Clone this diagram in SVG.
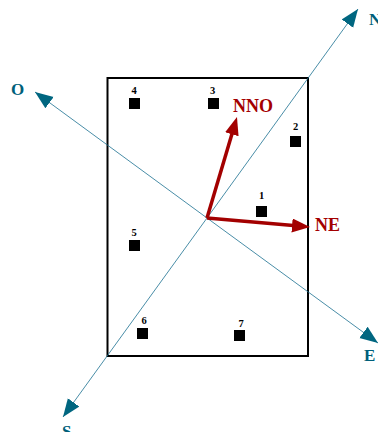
<svg xmlns="http://www.w3.org/2000/svg" width="378" height="432" viewBox="0 0 378 432">
<style>
.axis{stroke:#1a7090;stroke-width:0.8;fill:none}
.dir{font-family:"Liberation Serif",serif;font-weight:bold;font-size:17px;fill:#005f7a}
.red{stroke:#a30000;stroke-width:3.5;fill:none}
.rlab{font-family:"Liberation Serif",serif;font-weight:bold;font-size:18px;fill:#a30000}
.num{font-family:"Liberation Serif",serif;font-weight:bold;font-size:10.5px;fill:#000;text-anchor:middle}
.pt{fill:#000}
</style>
<defs>
<marker id="ta" markerUnits="userSpaceOnUse" markerWidth="20" markerHeight="16" refX="18" refY="7" orient="auto">
<path d="M0,0 L18,7 L0,14 z" fill="#006680"/>
</marker>
<marker id="ra" markerUnits="userSpaceOnUse" markerWidth="20" markerHeight="16" refX="10" refY="7" orient="auto">
<path d="M0,0 L18,7 L0,14 z" fill="#a30000"/>
</marker>
</defs>
<g id="frame">
<rect x="107.5" y="78" width="200.5" height="278" fill="none" stroke="#000" stroke-width="2"/>
</g>
<g id="connectors">
<line class="axis" x1="207" y1="218" x2="358" y2="9" marker-end="url(#ta)"/>
<line class="axis" x1="207" y1="218" x2="63" y2="417" marker-end="url(#ta)"/>
<line class="axis" x1="207" y1="218" x2="35" y2="92" marker-end="url(#ta)"/>
<line class="axis" x1="207" y1="218" x2="378" y2="343" marker-end="url(#ta)"/>
<line class="red" x1="207" y1="218" x2="234.7" y2="124.7" marker-end="url(#ra)"/>
<line class="red" x1="207" y1="218" x2="302" y2="226.3" marker-end="url(#ra)"/>
</g>
<g id="labels">
<text class="dir" x="369" y="25">N</text>
<text class="dir" x="11" y="95">O</text>
<text class="dir" x="364" y="361">E</text>
<text class="dir" x="62" y="437">S</text>
<text class="rlab" x="233" y="112">NNO</text>
<text class="rlab" x="315" y="231">NE</text>
</g>
<g id="p1"><rect class="pt" x="256" y="206" width="11" height="11"/><text class="num" x="261.5" y="199">1</text></g>
<g id="p2"><rect class="pt" x="290" y="136" width="11" height="11"/><text class="num" x="295.5" y="130">2</text></g>
<g id="p3"><rect class="pt" x="208" y="98" width="11" height="11"/><text class="num" x="212.5" y="94">3</text></g>
<g id="p4"><rect class="pt" x="129" y="98" width="11" height="11"/><text class="num" x="134" y="94">4</text></g>
<g id="p5"><rect class="pt" x="129" y="240" width="11" height="11"/><text class="num" x="134" y="236">5</text></g>
<g id="p6"><rect class="pt" x="137" y="328" width="11" height="11"/><text class="num" x="144" y="324">6</text></g>
<g id="p7"><rect class="pt" x="234" y="330" width="11" height="11"/><text class="num" x="241" y="327">7</text></g>
</svg>
